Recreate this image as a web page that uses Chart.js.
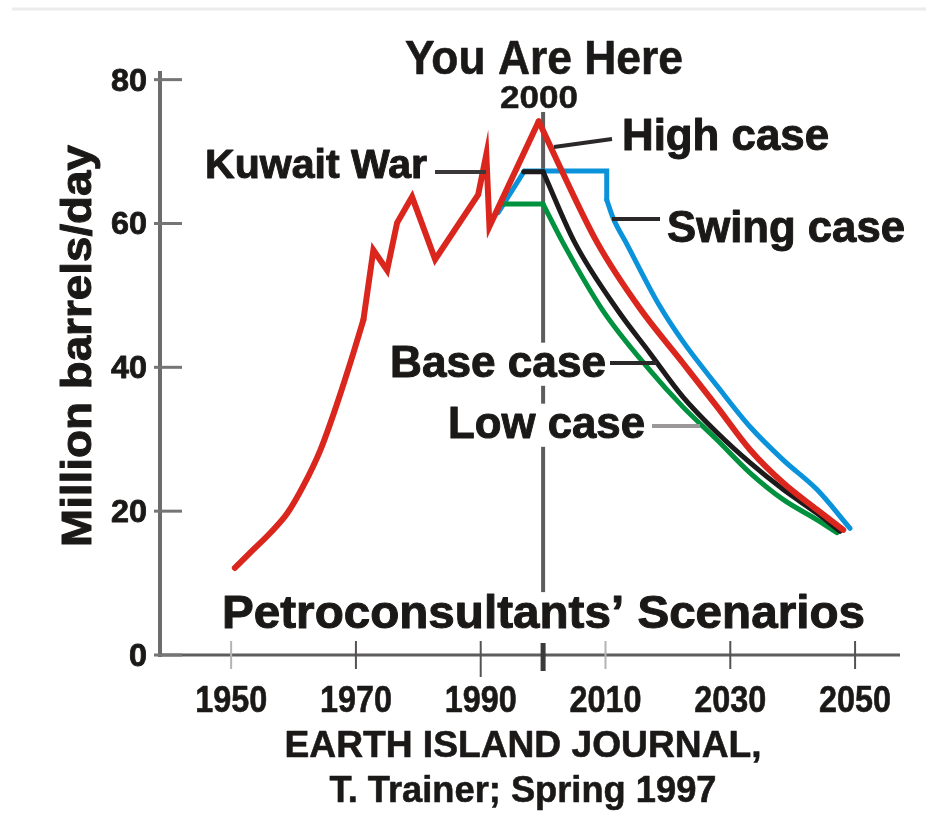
<!DOCTYPE html>
<html>
<head>
<meta charset="utf-8">
<script src="https://cdn.jsdelivr.net/npm/chart.js@4.4.1/dist/chart.umd.min.js"></script>
<style>
  html, body { margin: 0; padding: 0; background: #ffffff; }
  #wrap { width: 926px; height: 821px; }
</style>
</head>
<body>
<div id="wrap"><canvas id="c" width="926" height="821"></canvas></div>
<script>
// ---------------- data ----------------
// historical production: smooth growth part and the jagged part
const growthYears  = [1950.6, 1953.5, 1956.3, 1959.0, 1961.5, 1964.3, 1967.0, 1969.6, 1971.2];
const growthValues = [12.1,   14.6,   17.0,   19.7,   23.4,   28.5,   35.0,   42.0,   46.6];
const jaggedYears  = [1971.2, 1972.8, 1975.0, 1976.6, 1979.0, 1982.7, 1989.6, 1990.9, 1991.4, 1999.3];
const jaggedValues = [46.6,   56.3,   53.5,   60.1,   63.7,   55.0,   64.0,   69.6,   59.6,   74.2];

// High case (continues from the 1999 peak)
const highYears  = [1999.3, 2002.2, 2008.7, 2015.5, 2022.4, 2027.9, 2033.2, 2038.5, 2043.9, 2048.1];
const highValues = [74.2,   68.8,   57.3,   48.2,   40.6,   34.5,   28.5,   23.9,   20.2,   17.4];

// Swing case: plateau then decline
const swingPlateauYears  = [1992.8, 1997.0, 2010.2, 2010.2];
const swingPlateauValues = [61.5,   67.3,   67.3,   63.3];
const swingDeclineYears  = [2010.2, 2011.2, 2013.5, 2018.5, 2022.4, 2027.9, 2033.2, 2038.5, 2043.9, 2049.2];
const swingDeclineValues = [63.3,   60.8,   57.0,   48.8,   43.6,   37.4,   31.7,   27.1,   23.0,   17.6];

// Base case
const basePlateauYears  = [1996.9, 2000.0];
const basePlateauValues = [67.2,   67.2];
const baseDeclineYears  = [2000.0, 2005.1, 2011.9, 2017.1, 2022.4, 2027.9, 2033.2, 2038.5, 2043.9, 2047.6];
const baseDeclineValues = [67.2,   57.3,   48.0,   42.0,   35.9,   30.9,   26.7,   23.0,   19.7,   17.2];

// Low case
const lowPlateauYears  = [1993.2, 2000.0];
const lowPlateauValues = [62.7,   62.7];
const lowDeclineYears  = [2000.0, 2003.2, 2009.5, 2017.1, 2022.4, 2027.9, 2033.2, 2038.5, 2043.9, 2047.1];
const lowDeclineValues = [62.7,   57.3,   48.0,   39.6,   34.5,   29.9,   25.3,   21.6,   18.8,   17.0];

const xTickYears  = [1950, 1970, 1990, 2010, 2030, 2050];
const xTickLabels = ['1950', '1970', '1990', '2010', '2030', '2050'];
const yTickValues = [0, 20, 40, 60, 80];
const yTickLabels = ['0', '20', '40', '60', '80'];
const markerYear  = 2000;

// ---------------- helpers ----------------
const pts = (xs, ys) => xs.map((x, i) => ({ x: x, y: ys[i] }));
const FONT = '"Liberation Sans", Arial, Helvetica, sans-serif';
const INK = '#1b1918';

function fitText(ctx, text, x, baseline, size, width, align, bg, heavy) {
  ctx.save();
  ctx.font = 'bold ' + size + 'px ' + FONT;
  const w = ctx.measureText(text).width;
  const sx = width / w;
  let left = x;
  if (align === 'center') left = x - width / 2;
  else if (align === 'right') left = x - width;
  if (bg) {
    ctx.fillStyle = '#ffffff';
    ctx.fillRect(left - 4, baseline - size * 0.78, width + 8, size * 0.98);
  }
  ctx.translate(left, baseline);
  ctx.scale(sx, 1);
  ctx.fillStyle = INK;
  ctx.textAlign = 'left';
  ctx.textBaseline = 'alphabetic';
  ctx.fillText(text, 0, 0);
  if (heavy) {
    ctx.strokeStyle = INK;
    ctx.lineWidth = heavy;
    ctx.lineJoin = 'round';
    ctx.strokeText(text, 0, 0);
  }
  ctx.restore();
}

function seg(ctx, x1, y1, x2, y2, color, w) {
  ctx.save();
  ctx.strokeStyle = color;
  ctx.lineWidth = w;
  ctx.lineCap = 'butt';
  ctx.beginPath();
  ctx.moveTo(x1, y1);
  ctx.lineTo(x2, y2);
  ctx.stroke();
  ctx.restore();
}

const decor = {
  id: 'decor',
  beforeDatasetsDraw(chart) {
    const ctx = chart.ctx;
    const xs = chart.scales.x, ys = chart.scales.y;
    const a = chart.chartArea;
    seg(ctx, 12, 9, 926, 9, '#ececec', 3);
    seg(ctx, a.left, a.top, a.left, a.bottom + 2, '#6e6b6b', 4);
    seg(ctx, a.left, a.bottom, a.right, a.bottom, '#5f5c5c', 3);
    yTickValues.forEach(v => {
      const y = ys.getPixelForValue(v);
      seg(ctx, a.left - 6, y, a.left + 22, y, '#777474', 3);
    });
    xTickYears.forEach((yr) => {
      const x = xs.getPixelForValue(yr);
      const light = (yr === 1950 || yr === 2010);
      seg(ctx, x, a.bottom - 14, x, a.bottom + (yr === 1990 ? 22 : 14), light ? '#b5b3b3' : '#555252', 2);
    });
    const mx = xs.getPixelForValue(markerYear);
    seg(ctx, mx, 112, mx, 596, '#5f5c5c', 4);
    seg(ctx, mx, a.bottom - 12, mx, a.bottom + 16, '#3c3a3a', 5);
  },
  afterDatasetsDraw(chart) {
    const ctx = chart.ctx;
    const xs = chart.scales.x, ys = chart.scales.y;
    yTickValues.forEach((v, i) => {
      const y = ys.getPixelForValue(v);
      const lab = yTickLabels[i];
      fitText(ctx, lab, 147, y + 11, 31, lab.length * 18, 'right', false, 0.8);
    });
    xTickYears.forEach((yr, i) => {
      const x = xs.getPixelForValue(yr);
      fitText(ctx, xTickLabels[i], x, 712, 37, 72, 'center', false, 0.6);
    });
    ctx.save();
    ctx.translate(91, 346);
    ctx.rotate(-Math.PI / 2);
    fitText(ctx, 'Million barrels/day', 0, 0, 43, 402, 'center', false, 1);
    ctx.restore();

    seg(ctx, 435, 172, 486, 172, '#3a3838', 4);      // Kuwait War
    seg(ctx, 554, 147, 612, 139, '#2a2828', 4);      // High case
    seg(ctx, 612, 219, 660, 219, '#2a2828', 4);      // Swing case
    seg(ctx, 607, 363, 657, 363, '#2a2828', 4);      // Base case
    seg(ctx, 652, 426, 700, 426, '#9a9898', 4);      // Low case

    fitText(ctx, 'You Are Here', 405, 74, 48, 278, 'left', false, 0.6);
    fitText(ctx, '2000', 539, 108, 32, 78, 'center', false, 0.5);
    fitText(ctx, 'Kuwait War', 205, 178, 40, 222, 'left', false, 1);
    fitText(ctx, 'High case', 622, 150, 44, 207, 'left', false, 1);
    fitText(ctx, 'Swing case', 667, 242, 44, 238, 'left', false, 1);
    fitText(ctx, 'Base case', 390, 377, 44, 216, 'left', true, 1);
    fitText(ctx, 'Low case', 448, 438, 44, 197, 'left', true, 1);
    fitText(ctx, 'Petroconsultants\u2019 Scenarios', 222, 628, 46, 643, 'left', true, 1);

    fitText(ctx, 'EARTH ISLAND JOURNAL,', 523, 757, 37, 477, 'center', false, 0.6);
    fitText(ctx, 'T. Trainer; Spring 1997', 523, 802, 37, 387, 'center', false, 0.6);
  }
};

const RED = '#da261d', BLUE = '#0a93da', BLACK = '#1c1a1a', GREEN = '#00923f';
function ds(label, xs, ys, color, width, order, smooth) {
  return {
    label: label, data: pts(xs, ys), borderColor: color, borderWidth: width, order: order,
    pointRadius: 0, fill: false, tension: 0, borderJoinStyle: 'miter', borderCapStyle: 'round',
    cubicInterpolationMode: smooth ? 'monotone' : 'default'
  };
}

new Chart(document.getElementById('c'), {
  type: 'line',
  data: {
    datasets: [
      ds('History', growthYears, growthValues, RED, 6, 0, true),
      ds('History', jaggedYears, jaggedValues, RED, 6, 0, false),
      ds('High case', highYears, highValues, RED, 6, 1, true),
      ds('Base case', basePlateauYears, basePlateauValues, BLACK, 5, 2, false),
      ds('Base case', baseDeclineYears, baseDeclineValues, BLACK, 5, 2, true),
      ds('Low case', lowPlateauYears, lowPlateauValues, GREEN, 5, 3, false),
      ds('Low case', lowDeclineYears, lowDeclineValues, GREEN, 5, 3, true),
      ds('Swing case', swingPlateauYears, swingPlateauValues, BLUE, 5, 4, false),
      ds('Swing case', swingDeclineYears, swingDeclineValues, BLUE, 5, 4, true)
    ]
  },
  options: {
    responsive: false,
    animation: false,
    layout: { padding: { left: 160, right: 26, top: 71, bottom: 166 } },
    scales: {
      x: { type: 'linear', min: 1938.6, max: 2057.2, display: false },
      y: { type: 'linear', min: 0, max: 81.2, display: false }
    },
    plugins: { legend: { display: false }, tooltip: { enabled: false }, title: { display: false } },
    elements: { point: { radius: 0 } }
  },
  plugins: [decor]
});
</script>
</body>
</html>
